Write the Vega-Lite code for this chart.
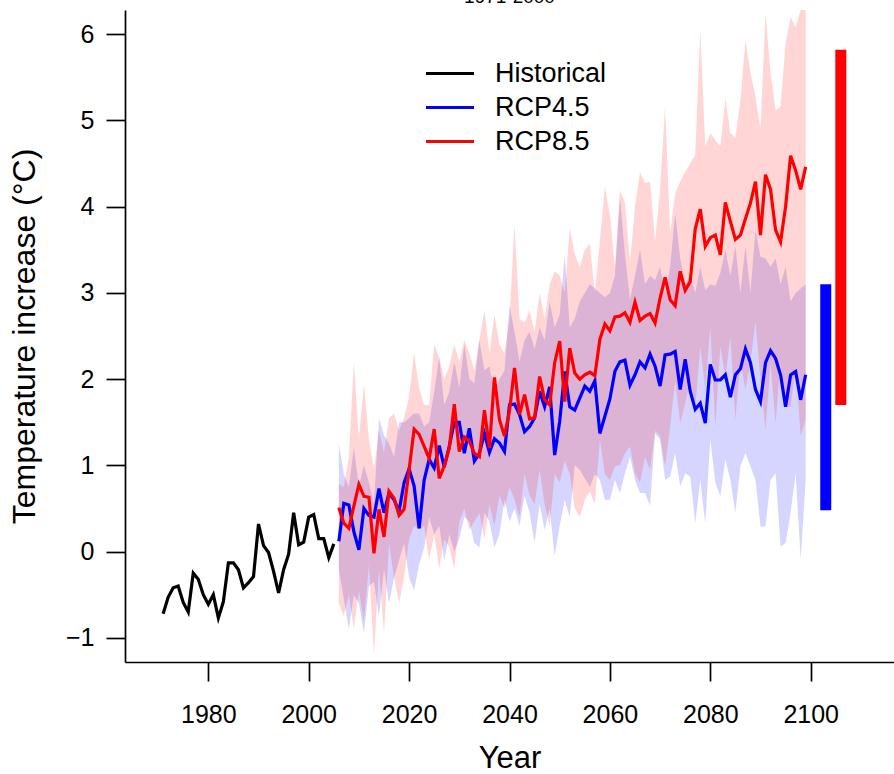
{
  "$schema": "https://vega.github.io/schema/vega-lite/v6.json",
  "width": 769,
  "height": 652,
  "autosize": {"type": "none"},
  "padding": {"left": 125, "top": 10, "right": 0, "bottom": 112},
  "background": "white",
  "title": {"text": "1971-2000", "fontSize": 19, "font": "Liberation Sans", "fontWeight": "normal", "offset": 0, "dy": 12, "baseline": "alphabetic", "anchor": "middle", "color": "#000"},
  "datasets": {
    "lines": [
      {"year":1971,"series":"Historical","value":-0.72},{"year":1972,"series":"Historical","value":-0.53},{"year":1973,"series":"Historical","value":-0.42},{"year":1974,"series":"Historical","value":-0.40},{"year":1975,"series":"Historical","value":-0.59},{"year":1976,"series":"Historical","value":-0.70},{"year":1977,"series":"Historical","value":-0.25},{"year":1978,"series":"Historical","value":-0.32},{"year":1979,"series":"Historical","value":-0.50},{"year":1980,"series":"Historical","value":-0.61},{"year":1981,"series":"Historical","value":-0.50},{"year":1982,"series":"Historical","value":-0.77},{"year":1983,"series":"Historical","value":-0.58},{"year":1984,"series":"Historical","value":-0.13},{"year":1985,"series":"Historical","value":-0.13},{"year":1986,"series":"Historical","value":-0.21},{"year":1987,"series":"Historical","value":-0.42},{"year":1988,"series":"Historical","value":-0.36},{"year":1989,"series":"Historical","value":-0.29},{"year":1990,"series":"Historical","value":0.32},{"year":1991,"series":"Historical","value":0.07},{"year":1992,"series":"Historical","value":-0.01},{"year":1993,"series":"Historical","value":-0.23},{"year":1994,"series":"Historical","value":-0.48},{"year":1995,"series":"Historical","value":-0.21},{"year":1996,"series":"Historical","value":-0.03},{"year":1997,"series":"Historical","value":0.45},{"year":1998,"series":"Historical","value":0.08},{"year":1999,"series":"Historical","value":0.11},{"year":2000,"series":"Historical","value":0.40},{"year":2001,"series":"Historical","value":0.43},{"year":2002,"series":"Historical","value":0.15},{"year":2003,"series":"Historical","value":0.15},{"year":2004,"series":"Historical","value":-0.07},{"year":2005,"series":"Historical","value":0.09},
      {"year":2006,"series":"RCP4.5","value":0.12},{"year":2007,"series":"RCP4.5","value":0.56},{"year":2008,"series":"RCP4.5","value":0.54},{"year":2009,"series":"RCP4.5","value":0.23},{"year":2010,"series":"RCP4.5","value":0.02},{"year":2011,"series":"RCP4.5","value":0.50},{"year":2012,"series":"RCP4.5","value":0.42},{"year":2013,"series":"RCP4.5","value":0.40},{"year":2014,"series":"RCP4.5","value":0.73},{"year":2015,"series":"RCP4.5","value":0.45},{"year":2016,"series":"RCP4.5","value":0.68},{"year":2017,"series":"RCP4.5","value":0.60},{"year":2018,"series":"RCP4.5","value":0.47},{"year":2019,"series":"RCP4.5","value":0.80},{"year":2020,"series":"RCP4.5","value":0.96},{"year":2021,"series":"RCP4.5","value":0.76},{"year":2022,"series":"RCP4.5","value":0.27},{"year":2023,"series":"RCP4.5","value":0.83},{"year":2024,"series":"RCP4.5","value":1.07},{"year":2025,"series":"RCP4.5","value":0.97},{"year":2026,"series":"RCP4.5","value":1.23},{"year":2027,"series":"RCP4.5","value":0.98},{"year":2028,"series":"RCP4.5","value":1.22},{"year":2029,"series":"RCP4.5","value":1.50},{"year":2030,"series":"RCP4.5","value":1.50},{"year":2031,"series":"RCP4.5","value":1.14},{"year":2032,"series":"RCP4.5","value":1.43},{"year":2033,"series":"RCP4.5","value":1.05},{"year":2034,"series":"RCP4.5","value":1.14},{"year":2035,"series":"RCP4.5","value":1.37},{"year":2036,"series":"RCP4.5","value":1.15},{"year":2037,"series":"RCP4.5","value":1.31},{"year":2038,"series":"RCP4.5","value":1.26},{"year":2039,"series":"RCP4.5","value":1.16},{"year":2040,"series":"RCP4.5","value":1.70},{"year":2041,"series":"RCP4.5","value":1.71},{"year":2042,"series":"RCP4.5","value":1.59},{"year":2043,"series":"RCP4.5","value":1.39},{"year":2044,"series":"RCP4.5","value":1.45},{"year":2045,"series":"RCP4.5","value":1.55},{"year":2046,"series":"RCP4.5","value":1.86},{"year":2047,"series":"RCP4.5","value":1.68},{"year":2048,"series":"RCP4.5","value":1.91},{"year":2049,"series":"RCP4.5","value":1.12},{"year":2050,"series":"RCP4.5","value":1.51},{"year":2051,"series":"RCP4.5","value":2.09},{"year":2052,"series":"RCP4.5","value":1.68},{"year":2053,"series":"RCP4.5","value":1.64},{"year":2054,"series":"RCP4.5","value":1.78},{"year":2055,"series":"RCP4.5","value":1.92},{"year":2056,"series":"RCP4.5","value":1.86},{"year":2057,"series":"RCP4.5","value":1.98},{"year":2058,"series":"RCP4.5","value":1.37},{"year":2059,"series":"RCP4.5","value":1.57},{"year":2060,"series":"RCP4.5","value":1.77},{"year":2061,"series":"RCP4.5","value":2.09},{"year":2062,"series":"RCP4.5","value":2.20},{"year":2063,"series":"RCP4.5","value":2.22},{"year":2064,"series":"RCP4.5","value":1.93},{"year":2065,"series":"RCP4.5","value":2.05},{"year":2066,"series":"RCP4.5","value":2.20},{"year":2067,"series":"RCP4.5","value":2.13},{"year":2068,"series":"RCP4.5","value":2.29},{"year":2069,"series":"RCP4.5","value":2.15},{"year":2070,"series":"RCP4.5","value":1.92},{"year":2071,"series":"RCP4.5","value":2.28},{"year":2072,"series":"RCP4.5","value":2.29},{"year":2073,"series":"RCP4.5","value":2.32},{"year":2074,"series":"RCP4.5","value":1.88},{"year":2075,"series":"RCP4.5","value":2.23},{"year":2076,"series":"RCP4.5","value":1.86},{"year":2077,"series":"RCP4.5","value":1.65},{"year":2078,"series":"RCP4.5","value":1.72},{"year":2079,"series":"RCP4.5","value":1.49},{"year":2080,"series":"RCP4.5","value":2.17},{"year":2081,"series":"RCP4.5","value":1.99},{"year":2082,"series":"RCP4.5","value":1.99},{"year":2083,"series":"RCP4.5","value":2.05},{"year":2084,"series":"RCP4.5","value":1.79},{"year":2085,"series":"RCP4.5","value":2.05},{"year":2086,"series":"RCP4.5","value":2.12},{"year":2087,"series":"RCP4.5","value":2.35},{"year":2088,"series":"RCP4.5","value":2.19},{"year":2089,"series":"RCP4.5","value":1.88},{"year":2090,"series":"RCP4.5","value":1.74},{"year":2091,"series":"RCP4.5","value":2.19},{"year":2092,"series":"RCP4.5","value":2.33},{"year":2093,"series":"RCP4.5","value":2.24},{"year":2094,"series":"RCP4.5","value":2.05},{"year":2095,"series":"RCP4.5","value":1.68},{"year":2096,"series":"RCP4.5","value":2.05},{"year":2097,"series":"RCP4.5","value":2.09},{"year":2098,"series":"RCP4.5","value":1.76},{"year":2099,"series":"RCP4.5","value":2.05},
      {"year":2006,"series":"RCP8.5","value":0.51},{"year":2007,"series":"RCP8.5","value":0.33},{"year":2008,"series":"RCP8.5","value":0.27},{"year":2009,"series":"RCP8.5","value":0.53},{"year":2010,"series":"RCP8.5","value":0.78},{"year":2011,"series":"RCP8.5","value":0.64},{"year":2012,"series":"RCP8.5","value":0.63},{"year":2013,"series":"RCP8.5","value":-0.02},{"year":2014,"series":"RCP8.5","value":0.49},{"year":2015,"series":"RCP8.5","value":0.17},{"year":2016,"series":"RCP8.5","value":0.70},{"year":2017,"series":"RCP8.5","value":0.62},{"year":2018,"series":"RCP8.5","value":0.42},{"year":2019,"series":"RCP8.5","value":0.49},{"year":2020,"series":"RCP8.5","value":0.95},{"year":2021,"series":"RCP8.5","value":1.42},{"year":2022,"series":"RCP8.5","value":1.36},{"year":2023,"series":"RCP8.5","value":1.22},{"year":2024,"series":"RCP8.5","value":1.08},{"year":2025,"series":"RCP8.5","value":1.42},{"year":2026,"series":"RCP8.5","value":0.85},{"year":2027,"series":"RCP8.5","value":0.99},{"year":2028,"series":"RCP8.5","value":1.20},{"year":2029,"series":"RCP8.5","value":1.71},{"year":2030,"series":"RCP8.5","value":1.16},{"year":2031,"series":"RCP8.5","value":1.33},{"year":2032,"series":"RCP8.5","value":1.28},{"year":2033,"series":"RCP8.5","value":1.14},{"year":2034,"series":"RCP8.5","value":1.10},{"year":2035,"series":"RCP8.5","value":1.64},{"year":2036,"series":"RCP8.5","value":1.20},{"year":2037,"series":"RCP8.5","value":2.02},{"year":2038,"series":"RCP8.5","value":1.53},{"year":2039,"series":"RCP8.5","value":1.34},{"year":2040,"series":"RCP8.5","value":1.63},{"year":2041,"series":"RCP8.5","value":2.13},{"year":2042,"series":"RCP8.5","value":1.59},{"year":2043,"series":"RCP8.5","value":1.82},{"year":2044,"series":"RCP8.5","value":1.54},{"year":2045,"series":"RCP8.5","value":1.55},{"year":2046,"series":"RCP8.5","value":2.03},{"year":2047,"series":"RCP8.5","value":1.76},{"year":2048,"series":"RCP8.5","value":1.70},{"year":2049,"series":"RCP8.5","value":2.19},{"year":2050,"series":"RCP8.5","value":2.44},{"year":2051,"series":"RCP8.5","value":1.74},{"year":2052,"series":"RCP8.5","value":2.36},{"year":2053,"series":"RCP8.5","value":2.07},{"year":2054,"series":"RCP8.5","value":2.00},{"year":2055,"series":"RCP8.5","value":2.05},{"year":2056,"series":"RCP8.5","value":2.08},{"year":2057,"series":"RCP8.5","value":2.04},{"year":2058,"series":"RCP8.5","value":2.46},{"year":2059,"series":"RCP8.5","value":2.64},{"year":2060,"series":"RCP8.5","value":2.56},{"year":2061,"series":"RCP8.5","value":2.72},{"year":2062,"series":"RCP8.5","value":2.73},{"year":2063,"series":"RCP8.5","value":2.77},{"year":2064,"series":"RCP8.5","value":2.66},{"year":2065,"series":"RCP8.5","value":2.89},{"year":2066,"series":"RCP8.5","value":2.68},{"year":2067,"series":"RCP8.5","value":2.73},{"year":2068,"series":"RCP8.5","value":2.76},{"year":2069,"series":"RCP8.5","value":2.65},{"year":2070,"series":"RCP8.5","value":2.94},{"year":2071,"series":"RCP8.5","value":3.18},{"year":2072,"series":"RCP8.5","value":2.92},{"year":2073,"series":"RCP8.5","value":2.85},{"year":2074,"series":"RCP8.5","value":3.25},{"year":2075,"series":"RCP8.5","value":3.03},{"year":2076,"series":"RCP8.5","value":3.13},{"year":2077,"series":"RCP8.5","value":3.74},{"year":2078,"series":"RCP8.5","value":3.97},{"year":2079,"series":"RCP8.5","value":3.54},{"year":2080,"series":"RCP8.5","value":3.64},{"year":2081,"series":"RCP8.5","value":3.67},{"year":2082,"series":"RCP8.5","value":3.44},{"year":2083,"series":"RCP8.5","value":4.05},{"year":2084,"series":"RCP8.5","value":3.83},{"year":2085,"series":"RCP8.5","value":3.62},{"year":2086,"series":"RCP8.5","value":3.67},{"year":2087,"series":"RCP8.5","value":3.86},{"year":2088,"series":"RCP8.5","value":4.04},{"year":2089,"series":"RCP8.5","value":4.29},{"year":2090,"series":"RCP8.5","value":3.67},{"year":2091,"series":"RCP8.5","value":4.37},{"year":2092,"series":"RCP8.5","value":4.20},{"year":2093,"series":"RCP8.5","value":3.73},{"year":2094,"series":"RCP8.5","value":3.59},{"year":2095,"series":"RCP8.5","value":4.00},{"year":2096,"series":"RCP8.5","value":4.59},{"year":2097,"series":"RCP8.5","value":4.42},{"year":2098,"series":"RCP8.5","value":4.20},{"year":2099,"series":"RCP8.5","value":4.46}
    ],
    "bands": [
      {"year":2006,"hi45":1.25,"lo45":-0.2,"hi85":0.78,"lo85":-0.6},{"year":2007,"hi45":0.9,"lo45":-0.55,"hi85":0.75,"lo85":-0.75},{"year":2008,"hi45":0.75,"lo45":-0.9,"hi85":1.1,"lo85":-0.5},{"year":2009,"hi45":1.2,"lo45":-0.5,"hi85":2.2,"lo85":-0.9},{"year":2010,"hi45":0.75,"lo45":-0.6,"hi85":1.3,"lo85":-0.45},{"year":2011,"hi45":1.0,"lo45":-0.95,"hi85":1.95,"lo85":-0.8},{"year":2012,"hi45":0.8,"lo45":-0.4,"hi85":1.3,"lo85":-0.15},{"year":2013,"hi45":0.55,"lo45":-0.35,"hi85":0.95,"lo85":-1.2},{"year":2014,"hi45":1.55,"lo45":-0.75,"hi85":1.4,"lo85":-0.2},{"year":2015,"hi45":1.35,"lo45":-0.2,"hi85":1.15,"lo85":-0.95},{"year":2016,"hi45":1.25,"lo45":-0.6,"hi85":1.55,"lo85":0.1},{"year":2017,"hi45":1.1,"lo45":-0.3,"hi85":1.6,"lo85":-0.3},{"year":2018,"hi45":1.5,"lo45":-0.1,"hi85":1.4,"lo85":-0.6},{"year":2019,"hi45":1.5,"lo45":0.1,"hi85":1.55,"lo85":-0.3},{"year":2020,"hi45":1.55,"lo45":-0.3,"hi85":1.8,"lo85":0.15},{"year":2021,"hi45":1.6,"lo45":-0.45,"hi85":2.3,"lo85":0.3},{"year":2022,"hi45":1.6,"lo45":-0.15,"hi85":1.9,"lo85":0.25},{"year":2023,"hi45":1.45,"lo45":0.05,"hi85":1.7,"lo85":0.3},{"year":2024,"hi45":1.5,"lo45":0.4,"hi85":1.7,"lo85":-0.1},{"year":2025,"hi45":1.85,"lo45":0.2,"hi85":2.4,"lo85":0.2},{"year":2026,"hi45":2.25,"lo45":0.3,"hi85":2.25,"lo85":-0.2},{"year":2027,"hi45":1.7,"lo45":-0.1,"hi85":2.0,"lo85":0.15},{"year":2028,"hi45":1.85,"lo45":0.2,"hi85":2.15,"lo85":0.05},{"year":2029,"hi45":2.2,"lo45":0.0,"hi85":2.4,"lo85":-0.2},{"year":2030,"hi45":1.9,"lo45":0.15,"hi85":2.2,"lo85":0.35},{"year":2031,"hi45":2.4,"lo45":0.4,"hi85":2.45,"lo85":0.5},{"year":2032,"hi45":2.0,"lo45":0.35,"hi85":2.3,"lo85":0.25},{"year":2033,"hi45":1.95,"lo45":0.1,"hi85":2.1,"lo85":0.35},{"year":2034,"hi45":2.45,"lo45":0.05,"hi85":2.45,"lo85":0.45},{"year":2035,"hi45":2.1,"lo45":0.45,"hi85":2.8,"lo85":0.15},{"year":2036,"hi45":2.15,"lo45":0.35,"hi85":2.3,"lo85":0.55},{"year":2037,"hi45":1.85,"lo45":0.05,"hi85":2.75,"lo85":0.3},{"year":2038,"hi45":2.0,"lo45":0.2,"hi85":2.4,"lo85":0.65},{"year":2039,"hi45":2.1,"lo45":0.6,"hi85":2.3,"lo85":0.5},{"year":2040,"hi45":2.85,"lo45":0.35,"hi85":2.7,"lo85":0.75},{"year":2041,"hi45":2.55,"lo45":0.5,"hi85":3.8,"lo85":0.6},{"year":2042,"hi45":2.2,"lo45":0.3,"hi85":2.7,"lo85":0.4},{"year":2043,"hi45":2.45,"lo45":0.65,"hi85":2.65,"lo85":0.9},{"year":2044,"hi45":2.55,"lo45":0.45,"hi85":2.8,"lo85":0.65},{"year":2045,"hi45":2.35,"lo45":0.1,"hi85":2.55,"lo85":0.55},{"year":2046,"hi45":2.6,"lo45":0.55,"hi85":3.0,"lo85":0.95},{"year":2047,"hi45":2.45,"lo45":0.25,"hi85":2.7,"lo85":0.55},{"year":2048,"hi45":2.9,"lo45":0.5,"hi85":3.1,"lo85":0.3},{"year":2049,"hi45":2.6,"lo45":-0.05,"hi85":3.25,"lo85":0.9},{"year":2050,"hi45":2.75,"lo45":0.3,"hi85":3.2,"lo85":0.8},{"year":2051,"hi45":3.45,"lo45":0.6,"hi85":3.0,"lo85":1.05},{"year":2052,"hi45":2.6,"lo45":0.4,"hi85":3.75,"lo85":0.9},{"year":2053,"hi45":2.7,"lo45":1.0,"hi85":3.45,"lo85":0.5},{"year":2054,"hi45":2.9,"lo45":0.95,"hi85":3.3,"lo85":0.4},{"year":2055,"hi45":3.0,"lo45":0.85,"hi85":3.5,"lo85":0.6},{"year":2056,"hi45":3.1,"lo45":0.75,"hi85":3.57,"lo85":0.7},{"year":2057,"hi45":3.05,"lo45":0.9,"hi85":3.0,"lo85":0.55},{"year":2058,"hi45":3.0,"lo45":0.83,"hi85":3.6,"lo85":1.3},{"year":2059,"hi45":2.95,"lo45":0.6,"hi85":4.23,"lo85":0.9},{"year":2060,"hi45":3.0,"lo45":0.6,"hi85":3.9,"lo85":0.83},{"year":2061,"hi45":3.2,"lo45":0.83,"hi85":3.3,"lo85":0.99},{"year":2062,"hi45":4.1,"lo45":0.68,"hi85":4.19,"lo85":1.0},{"year":2063,"hi45":3.45,"lo45":0.91,"hi85":4.05,"lo85":1.14},{"year":2064,"hi45":2.92,"lo45":1.1,"hi85":3.35,"lo85":1.22},{"year":2065,"hi45":3.2,"lo45":0.83,"hi85":4.0,"lo85":0.91},{"year":2066,"hi45":3.5,"lo45":0.68,"hi85":4.4,"lo85":0.8},{"year":2067,"hi45":3.1,"lo45":0.68,"hi85":4.27,"lo85":1.1},{"year":2068,"hi45":3.2,"lo45":0.53,"hi85":4.29,"lo85":0.95},{"year":2069,"hi45":3.15,"lo45":1.37,"hi85":3.6,"lo85":1.4},{"year":2070,"hi45":3.3,"lo45":1.3,"hi85":4.2,"lo85":1.34},{"year":2071,"hi45":3.0,"lo45":0.83,"hi85":5.16,"lo85":0.99},{"year":2072,"hi45":3.3,"lo45":0.87,"hi85":3.7,"lo85":1.45},{"year":2073,"hi45":3.92,"lo45":1.14,"hi85":4.15,"lo85":1.99},{"year":2074,"hi45":3.4,"lo45":0.76,"hi85":4.29,"lo85":1.49},{"year":2075,"hi45":3.1,"lo45":0.91,"hi85":4.4,"lo85":1.72},{"year":2076,"hi45":3.2,"lo45":0.87,"hi85":4.5,"lo85":1.99},{"year":2077,"hi45":3.0,"lo45":0.33,"hi85":4.6,"lo85":1.68},{"year":2078,"hi45":3.3,"lo45":0.83,"hi85":6.05,"lo85":2.38},{"year":2079,"hi45":3.03,"lo45":0.33,"hi85":4.7,"lo85":1.88},{"year":2080,"hi45":3.1,"lo45":1.3,"hi85":4.85,"lo85":2.61},{"year":2081,"hi45":3.08,"lo45":0.8,"hi85":4.77,"lo85":1.45},{"year":2082,"hi45":3.23,"lo45":0.64,"hi85":4.7,"lo85":2.38},{"year":2083,"hi45":3.5,"lo45":1.07,"hi85":5.25,"lo85":2.03},{"year":2084,"hi45":3.2,"lo45":0.83,"hi85":4.85,"lo85":2.49},{"year":2085,"hi45":3.54,"lo45":0.45,"hi85":4.8,"lo85":1.53},{"year":2086,"hi45":3.0,"lo45":0.99,"hi85":5.23,"lo85":2.22},{"year":2087,"hi45":3.54,"lo45":1.14,"hi85":5.93,"lo85":1.88},{"year":2088,"hi45":3.0,"lo45":0.99,"hi85":5.55,"lo85":2.19},{"year":2089,"hi45":3.73,"lo45":0.83,"hi85":5.27,"lo85":2.67},{"year":2090,"hi45":3.42,"lo45":0.29,"hi85":4.9,"lo85":1.99},{"year":2091,"hi45":3.4,"lo45":0.29,"hi85":6.24,"lo85":1.41},{"year":2092,"hi45":3.3,"lo45":0.83,"hi85":5.55,"lo85":2.19},{"year":2093,"hi45":3.4,"lo45":0.91,"hi85":5.12,"lo85":1.49},{"year":2094,"hi45":3.1,"lo45":0.06,"hi85":5.16,"lo85":2.19},{"year":2095,"hi45":3.3,"lo45":0.1,"hi85":5.9,"lo85":1.68},{"year":2096,"hi45":2.9,"lo45":0.45,"hi85":6.2,"lo85":1.68},{"year":2097,"hi45":3.0,"lo45":0.91,"hi85":6.08,"lo85":2.15},{"year":2098,"hi45":3.05,"lo45":-0.09,"hi85":6.28,"lo85":1.34},{"year":2099,"hi45":3.1,"lo45":0.83,"hi85":6.28,"lo85":1.53}
    ],
    "ranges": [
      {"scenario":"RCP4.5","year":2103,"low":0.48,"high":3.10},
      {"scenario":"RCP8.5","year":2106,"low":1.70,"high":5.82}
    ]
  },
  "layer": [
    {
      "data": {"name": "bands"},
      "mark": {"type": "area", "color": "#0000ff", "opacity": 0.165, "clip": true},
      "encoding": {
        "x": {"field": "year", "type": "quantitative", "scale": {"domain": [1964.4, 2115.6], "nice": false, "zero": false}, "axis": {"title": "Year", "values": [1980, 2000, 2020, 2040, 2060, 2080, 2100], "format": "d"}},
        "y": {"field": "lo45", "type": "quantitative", "scale": {"domain": [-1.28, 6.28], "nice": false, "zero": false}, "axis": {"title": "Temperature increase (°C)", "values": [-1, 0, 1, 2, 3, 4, 5, 6], "format": "d"}},
        "y2": {"field": "hi45"}
      }
    },
    {
      "data": {"name": "bands"},
      "mark": {"type": "area", "color": "#ff0000", "opacity": 0.165, "clip": true},
      "encoding": {
        "x": {"field": "year", "type": "quantitative"},
        "y": {"field": "lo85", "type": "quantitative"},
        "y2": {"field": "hi85"}
      }
    },
    {
      "mark": {"type": "rule", "color": "#000000", "strokeWidth": 1.8},
      "encoding": {"y": {"datum": 0, "type": "quantitative"}}
    },
    {
      "mark": {"type": "rule", "color": "#000000", "strokeWidth": 1.8, "strokeDash": [2, 6]},
      "encoding": {"x": {"datum": 2005, "type": "quantitative"}}
    },
    {
      "data": {"name": "lines"},
      "mark": {"type": "line", "strokeWidth": 3.2, "clip": true},
      "encoding": {
        "x": {"field": "year", "type": "quantitative"},
        "y": {"field": "value", "type": "quantitative"},
        "color": {
          "field": "series", "type": "nominal",
          "scale": {"domain": ["Historical", "RCP4.5", "RCP8.5"], "range": ["#000000", "#0000ff", "#ff0000"]},
          "legend": {"title": null, "orient": "none", "legendX": 299, "legendY": 51, "symbolType": "stroke", "symbolSize": 2304, "symbolStrokeWidth": 3.2, "labelFontSize": 27, "labelFont": "Liberation Sans", "labelColor": "#000", "labelOffset": 19, "clipHeight": 25, "rowPadding": 6, "padding": 0, "symbolOffset": 0}
        }
      }
    },
    {
      "data": {"name": "ranges"},
      "mark": {"type": "bar", "size": 11},
      "encoding": {
        "x": {"field": "year", "type": "quantitative"},
        "y": {"field": "low", "type": "quantitative"},
        "y2": {"field": "high"},
        "fill": {"field": "scenario", "type": "nominal", "scale": {"domain": ["RCP4.5", "RCP8.5"], "range": ["#0000ff", "#ff0000"]}, "legend": null}
      }
    }
  ],
  "config": {
    "view": {"stroke": null},
    "font": "Liberation Sans",
    "axis": {"grid": false, "domainColor": "#000", "domainWidth": 1.7, "tickColor": "#000", "tickWidth": 1.7, "tickSize": 19, "labelFont": "Liberation Sans", "labelFontSize": 25, "labelColor": "#000", "titleFont": "Liberation Sans", "titleFontSize": 31, "titleFontWeight": "normal", "titleColor": "#000", "labelFlush": false, "labelOverlap": false},
    "axisX": {"labelPadding": 21, "titlePadding": 16},
    "axisY": {"labelPadding": 12, "titlePadding": 24, "titleFontSize": 32}
  }
}
